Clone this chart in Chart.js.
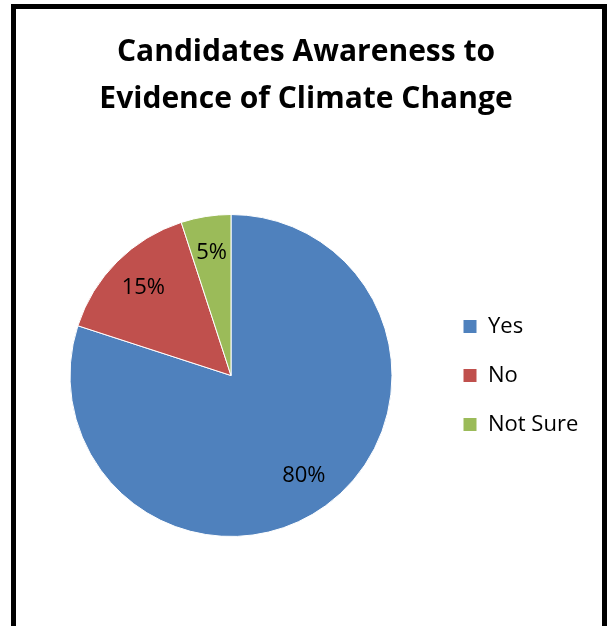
<!DOCTYPE html>
<html>
<head>
<meta charset="utf-8">
<script src="https://cdn.jsdelivr.net/npm/chart.js@4/dist/chart.umd.min.js"></script>
<style>
  html, body { margin: 0; padding: 0; background: #fff; overflow: hidden; }
  #frame { position: absolute; left: 11px; top: 4px; width: 586px; height: 700px; border: 5px solid #000; border-bottom: none; }
  #wrap { position: absolute; left: 0; top: 0; width: 609px; height: 640px; }
</style>
</head>
<body>
<div id="frame"></div>
<div id="wrap"><canvas id="pieChartAwareness"></canvas></div>
<script>
var categories = ["Yes", "No", "Not Sure"];
var percentages = [80, 15, 5];
var sliceColors = ["#4F81BD", "#C0504D", "#9BBB59"];

// percentage labels inside the slices
var sliceLabels = {
    id: 'sliceLabels',
    afterDatasetsDraw: function (chart) {
        var ctx = chart.ctx;
        var meta = chart.getDatasetMeta(0);
        ctx.save();
        ctx.font = '22px "Open Sans"';
        ctx.fillStyle = '#000';
        ctx.textAlign = 'center';
        ctx.textBaseline = 'middle';
        meta.data.forEach(function (arc, i) {
            var p = arc.getProps(['x', 'y', 'startAngle', 'endAngle', 'outerRadius'], true);
            var mid = (p.startAngle + p.endAngle) / 2;
            var r = p.outerRadius * 0.77;
            ctx.fillText(percentages[i] + '%', p.x + Math.cos(mid) * r, p.y + Math.sin(mid) * r);
        });
        ctx.restore();
    }
};

var ctx = document.getElementById("pieChartAwareness");
var myChart = new Chart(ctx, {
    type: 'pie',
    data: {
        labels: categories,
        datasets: [{
            data: percentages,
            backgroundColor: sliceColors,
            borderColor: '#fff',
            borderWidth: 1
        }]
    },
    options: {
        responsive: true,
        maintainAspectRatio: false,
        animation: false,
        radius: 161,
        layout: {
            padding: { left: 26, right: 23, top: 0, bottom: 12 }
        },
        plugins: {
            title: {
                display: true,
                text: ['Candidates Awareness to', 'Evidence of Climate Change'],
                color: '#000',
                font: { family: '"Open Sans"', size: 30, weight: 'bold', lineHeight: 1.567 },
                padding: { top: 29, bottom: 0 }
            },
            legend: {
                position: 'right',
                fullSize: false,
                maxWidth: 150,
                labels: {
                    color: '#000',
                    font: { family: '"Open Sans"', size: 22 },
                    boxWidth: 14,
                    boxHeight: 14,
                    padding: 27
                }
            },
            tooltip: { enabled: false }
        }
    },
    plugins: [sliceLabels]
});
</script>
</body>
</html>
